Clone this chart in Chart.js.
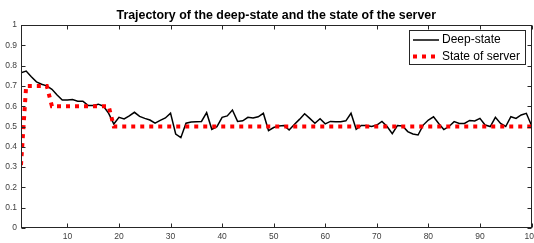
<!DOCTYPE html>
<html>
<head>
<meta charset="utf-8">
<script src="https://cdn.jsdelivr.net/npm/chart.js@4/dist/chart.umd.min.js"></script>
<style>
  body { margin: 0; background: #fff; }
  #wrap { width: 534px; height: 243px; }
</style>
</head>
<body>
<div id="wrap"><canvas id="myChart" width="534" height="243"></canvas></div>
<script>
// values
const deepState = [
  0.765, 0.773, 0.745, 0.72, 0.708, 0.70, 0.683, 0.655, 0.63, 0.63,
  0.633, 0.625, 0.625, 0.604, 0.604, 0.61, 0.60, 0.565, 0.512, 0.545,
  0.537, 0.552, 0.57, 0.55, 0.54, 0.532, 0.516, 0.53, 0.542, 0.566,
  0.463, 0.445, 0.516, 0.522, 0.524, 0.525, 0.568, 0.486, 0.499, 0.545,
  0.552, 0.581, 0.525, 0.528, 0.545, 0.542, 0.548, 0.565, 0.48, 0.495,
  0.503, 0.505, 0.483, 0.51, 0.535, 0.563, 0.54, 0.516, 0.538, 0.513,
  0.525, 0.524, 0.524, 0.528, 0.565, 0.486, 0.505, 0.505, 0.5, 0.507,
  0.525, 0.5, 0.465, 0.505, 0.503, 0.475, 0.463, 0.458, 0.507, 0.532,
  0.548, 0.515, 0.485, 0.5, 0.524, 0.515, 0.515, 0.53, 0.527, 0.54,
  0.507, 0.5, 0.545, 0.515, 0.5, 0.548, 0.54, 0.557, 0.565, 0.505
];
const serverX = [1, 2, 6, 7, 18, 19, 100];
const serverY = [0.31, 0.70, 0.70, 0.60, 0.60, 0.50, 0.50];
const xTicks = [10, 20, 30, 40, 50, 60, 70, 80, 90, 100];
const yTicks = [0, 0.1, 0.2, 0.3, 0.4, 0.5, 0.6, 0.7, 0.8, 0.9, 1];
const seriesNames = ['Deep-state', 'State of server'];
const titleText = 'Trajectory of the deep-state and the state of the server';

const axisColor = '#262626';
const fontFam = '"Liberation Sans", Arial, sans-serif';

// matlab style box with inward ticks, title over the axes, legend inside
const boxPlugin = {
  id: 'boxPlugin',
  afterDraw(chart) {
    const ctx = chart.ctx;
    const a = chart.chartArea;
    const xs = chart.scales.x, ys = chart.scales.y;
    ctx.save();
    ctx.strokeStyle = axisColor;
    ctx.lineWidth = 1;
    const L = Math.round(a.left) + 0.5, R = Math.round(a.right) - 0.5;
    const T = Math.round(a.top) + 0.5, B = Math.round(a.bottom) - 0.5;
    ctx.strokeRect(L, T, R - L, B - T);
    ctx.beginPath();
    xTicks.forEach(v => {
      const px = Math.round(xs.getPixelForValue(v)) + 0.5;
      ctx.moveTo(px, B); ctx.lineTo(px, B - 4);
      ctx.moveTo(px, T); ctx.lineTo(px, T + 4);
    });
    yTicks.forEach(v => {
      const py = Math.round(ys.getPixelForValue(v)) + 0.5;
      ctx.moveTo(L, py); ctx.lineTo(L + 4, py);
      ctx.moveTo(R, py); ctx.lineTo(R - 4, py);
    });
    ctx.stroke();

    // title
    ctx.fillStyle = '#000';
    ctx.font = 'bold 12.4px ' + fontFam;
    ctx.textAlign = 'center';
    ctx.textBaseline = 'alphabetic';
    ctx.fillText(titleText, (a.left + a.right) / 2, 19);

    // legend
    const lx = 409.5, ly = 30.5, lw = 116, lh = 34;
    ctx.fillStyle = '#fff';
    ctx.fillRect(lx, ly, lw, lh);
    ctx.strokeStyle = axisColor;
    ctx.strokeRect(lx, ly, lw, lh);
    ctx.strokeStyle = '#000';
    ctx.lineWidth = 1.5;
    ctx.beginPath(); ctx.moveTo(413, 40); ctx.lineTo(439, 40); ctx.stroke();
    ctx.strokeStyle = '#ff0000';
    ctx.lineWidth = 4;
    ctx.setLineDash([4, 5]);
    ctx.beginPath(); ctx.moveTo(413, 56.5); ctx.lineTo(439, 56.5); ctx.stroke();
    ctx.setLineDash([]);
    ctx.fillStyle = '#000';
    ctx.font = '12px ' + fontFam;
    ctx.textAlign = 'left';
    ctx.textBaseline = 'middle';
    ctx.fillText(seriesNames[0], 442, 40);
    ctx.fillText(seriesNames[1], 442, 57);
    ctx.restore();
  }
};

const ctx = document.getElementById('myChart').getContext('2d');
const myChart = new Chart(ctx, {
  type: 'line',
  data: {
    datasets: [
      {
        label: seriesNames[0],
        data: deepState.map((v, i) => ({ x: i + 1, y: v })),
        borderColor: '#000',
        borderWidth: 1.5,
        pointRadius: 0,
        tension: 0,
        order: 1
      },
      {
        label: seriesNames[1],
        data: serverX.map((x, i) => ({ x: x, y: serverY[i] })),
        borderColor: '#ff0000',
        borderWidth: 4,
        borderDash: [4, 5],
        borderCapStyle: 'butt',
        pointRadius: 0,
        tension: 0,
        order: 0
      }
    ]
  },
  options: {
    responsive: false,
    animation: false,
    layout: { padding: { left: 0, right: 2.5, top: 25, bottom: 0 } },
    plugins: {
      legend: { display: false },
      tooltip: { enabled: false },
      title: { display: false }
    },
    scales: {
      x: {
        type: 'linear',
        min: 1,
        max: 100,
        afterBuildTicks: s => { s.ticks = xTicks.map(v => ({ value: v })); },
        afterFit: s => { s.height = 15; s.paddingLeft = 0; s.paddingRight = 0; },
        grid: { display: false, drawTicks: false },
        border: { display: false },
        ticks: {
          padding: 4,
          color: '#404040',
          font: { family: fontFam, size: 8.5 },
          maxRotation: 0,
          autoSkip: false
        }
      },
      y: {
        min: 0,
        max: 1,
        afterBuildTicks: s => { s.ticks = yTicks.map(v => ({ value: v })); },
        afterFit: s => { s.width = 21; s.paddingTop = 0; s.paddingBottom = 0; },
        grid: { display: false, drawTicks: false },
        border: { display: false },
        ticks: {
          padding: 4,
          color: '#404040',
          font: { family: fontFam, size: 8.5 },
          callback: v => String(Math.round(v * 10) / 10)
        }
      }
    }
  },
  plugins: [boxPlugin]
});
</script>
</body>
</html>
